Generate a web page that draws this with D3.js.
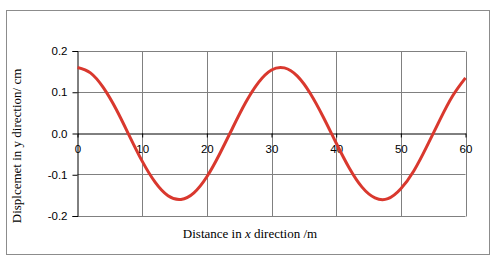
<!DOCTYPE html>
<html><head><meta charset="utf-8">
<script src="https://cdn.jsdelivr.net/npm/d3@7"></script>
<style>body{margin:0;background:#fff}svg{display:block}</style>
</head><body>
<svg id="c" width="502" height="265"></svg>
<script>
const distance = [0,2,4,6,8,10,12,14,16,18,20,22,24,26,28,30,32,34,36,38,40,42,44,46,48,50,52,54,56,58,60];
const displacement = [0.160,0.147,0.111,0.058,-0.005,-0.067,-0.118,-0.151,-0.160,-0.144,-0.105,-0.049,0.014,0.075,0.124,0.154,0.159,0.139,0.097,0.040,-0.023,-0.083,-0.130,-0.156,-0.158,-0.134,-0.091,-0.032,0.032,0.091,0.135];
const xTicks = [0,10,20,30,40,50,60];
const yTicks = [-0.2,-0.1,0.0,0.1,0.2];
const yTickLabels = ["-0.2","-0.1","0.0","0.1","0.2"];
const yTitle = "Displcemet in y direction/ cm";

const svg = d3.select("#c");
svg.append("rect").attr("x",6.5).attr("y",10.5).attr("width",483).attr("height",244)
  .attr("fill","#fff").attr("stroke","#8c8c8c").attr("stroke-width",1);

const x = d3.scaleLinear().domain([0,60]).range([77.5,465.5]);
const y = d3.scaleLinear().domain([-0.2,0.2]).range([216,51]);
const py = v => Math.floor(y(v))+0.5;

// gridlines
svg.append("g").selectAll("line").data(xTicks.slice(1)).join("line")
  .attr("x1",d=>Math.round(x(d))+0.5).attr("x2",d=>Math.round(x(d))+0.5)
  .attr("y1",py(0.2)).attr("y2",py(-0.2)).attr("stroke","#808080");
svg.append("g").selectAll("line").data(yTicks.filter(d=>d!==0)).join("line")
  .attr("x1",x(0)).attr("x2",x(60))
  .attr("y1",d=>py(d)).attr("y2",d=>py(d)).attr("stroke","#808080");

const font = "Liberation Sans, Arial, sans-serif";
// y axis
const ya = svg.append("g").attr("transform",`translate(${x(0)},0)`)
  .call(d3.axisLeft(y).tickValues(yTicks).tickFormat((d,i)=>yTickLabels[i]).tickSize(5).tickPadding(5));
ya.select(".domain").attr("stroke","#000");
ya.selectAll(".tick line").attr("stroke","#000");
ya.selectAll("text").attr("font-family",font).attr("font-size",11.5).attr("fill","#000");

// x axis at zero
const xa = svg.append("g").attr("transform",`translate(0,${py(0)})`)
  .call(d3.axisBottom(x).tickValues(xTicks).tickSize(4).tickPadding(7).tickSizeOuter(0));
xa.select(".domain").attr("stroke","#000");
xa.selectAll(".tick line").attr("stroke","#000");
xa.selectAll("text").attr("font-family",font).attr("font-size",11.5).attr("fill","#000");

// curve
const line = d3.line().x((d,i)=>x(distance[i])).y(d=>y(d)).curve(d3.curveNatural);
svg.append("path").datum(displacement).attr("d",line)
  .attr("fill","none").attr("stroke","#d9382e").attr("stroke-width",3).attr("stroke-linejoin","round");

// titles
const serif = "Liberation Serif, Times New Roman, serif";
const xt = svg.append("text").attr("x",250).attr("y",238).attr("text-anchor","middle")
  .attr("font-family",serif).attr("font-size",13).attr("fill","#000");
xt.append("tspan").text("Distance in ");
xt.append("tspan").attr("font-style","italic").text("x");
xt.append("tspan").text(" direction /m");
svg.append("text").attr("transform","translate(21,146) rotate(-90)").attr("text-anchor","middle")
  .attr("font-family",serif).attr("font-size",13).attr("fill","#000")
  .text(yTitle);
</script>
</body></html>
